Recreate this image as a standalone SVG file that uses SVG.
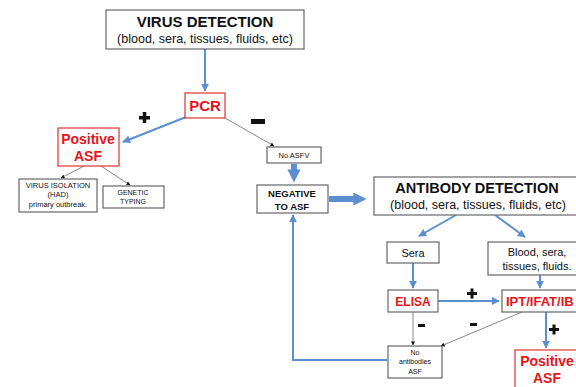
<svg xmlns="http://www.w3.org/2000/svg" width="576" height="387" viewBox="0 0 576 387">
<style>
text{font-family:"Liberation Sans",Arial,sans-serif;text-anchor:middle;fill:#111}
.box{fill:#fff;stroke:#666;stroke-width:1.2}
.rbox{fill:#fff;stroke:#e03030;stroke-width:1.2}
.red{fill:#e8141c;font-weight:bold}
.b{font-weight:bold}
.blue{stroke:#5b8fd0;stroke-width:2;fill:none}
.thick{stroke:#5b8fd0;stroke-width:6;fill:none}
.gray{stroke:#888;stroke-width:1;fill:none}
</style>
<defs>
<marker id="ab" viewBox="0 0 10 10" refX="9" refY="5" markerWidth="4" markerHeight="4" orient="auto"><path d="M0,0L10,5L0,10z" fill="#5b8fd0"/></marker>
<marker id="ak" viewBox="0 0 10 10" refX="9" refY="5" markerWidth="4" markerHeight="4" orient="auto"><path d="M0,0L10,5L0,10z" fill="#111"/></marker>
<marker id="at" viewBox="0 0 10 10" refX="5" refY="5" markerWidth="2.2" markerHeight="2.2" orient="auto"><path d="M0,0L10,5L0,10z" fill="#5b8fd0"/></marker>
</defs>
<rect width="576" height="387" fill="#fff"/>
<g id="connectors">
<line class="blue" x1="205" y1="49" x2="205" y2="91" marker-end="url(#ab)"/>
<line class="blue" x1="186" y1="117" x2="123" y2="142" marker-end="url(#ab)"/>
<line class="gray" x1="225" y1="118" x2="274" y2="146" marker-end="url(#ak)"/>
<line class="thick" x1="294" y1="164" x2="294" y2="176" marker-end="url(#at)"/>
<line class="thick" x1="329" y1="199" x2="360" y2="199" marker-end="url(#at)"/>
<line class="gray" x1="84" y1="166" x2="61" y2="178" marker-end="url(#ak)"/>
<line class="gray" x1="101" y1="166" x2="130" y2="185" marker-end="url(#ak)"/>
<line class="blue" x1="456" y1="215" x2="419" y2="236" marker-end="url(#ab)"/>
<line class="blue" x1="495" y1="215" x2="525" y2="237" marker-end="url(#ab)"/>
<line class="blue" x1="413" y1="263" x2="413" y2="288" marker-end="url(#ab)"/>
<line class="blue" x1="438" y1="301" x2="499" y2="301" marker-end="url(#ab)"/>
<line class="blue" x1="540" y1="275" x2="540" y2="288" marker-end="url(#ab)"/>
<line class="blue" x1="546" y1="312" x2="546" y2="348" marker-end="url(#ab)"/>
<line class="gray" x1="413" y1="312" x2="413" y2="345" marker-end="url(#ak)"/>
<line class="gray" x1="522" y1="312" x2="441" y2="346" marker-end="url(#ak)"/>
<polyline class="blue" points="387,360 293,360 293,215" marker-end="url(#ab)"/>
<rect x="139" y="116" width="11" height="3.5" fill="#111"/><rect x="142.75" y="112" width="3.5" height="11" fill="#111"/>
<rect x="251" y="119" width="14" height="5" fill="#111"/>
<rect x="467" y="292" width="10" height="3" fill="#111"/><rect x="470.5" y="288.5" width="3" height="10" fill="#111"/>
<rect x="549" y="328" width="10" height="3" fill="#111"/><rect x="552.5" y="324.5" width="3" height="10" fill="#111"/>
<rect x="418" y="324" width="7" height="3" fill="#111"/>
<rect x="470" y="323" width="7" height="3" fill="#111"/>
</g>
<g id="virus-detection">
<rect class="box" x="106" y="10" width="198" height="39"/>
<text x="205" y="27" class="b" font-size="15">VIRUS DETECTION</text>
<text x="205" y="43" font-size="12.5">(blood, sera, tissues, fluids, etc)</text>
</g>
<g id="pcr">
<rect class="rbox" x="185" y="93" width="40" height="25" stroke="#c04040"/>
<text x="205" y="111" class="red" font-size="15">PCR</text>
</g>
<g id="positive-asf-1">
<rect class="rbox" x="58" y="128" width="61" height="38"/>
<text x="88" y="144" class="red" font-size="14">Positive</text>
<text x="88" y="161" class="red" font-size="14">ASF</text>
</g>
<g id="virus-isolation">
<rect class="box" x="19" y="179" width="78" height="33"/>
<text x="58" y="188" font-size="7.5">VIRUS ISOLATION</text>
<text x="58" y="197" font-size="7.5">(HAD)</text>
<text x="58" y="207" font-size="7.5">primary outbreak.</text>
</g>
<g id="genetic-typing">
<rect class="box" x="103" y="186" width="61" height="22"/>
<text x="133" y="195" font-size="7">GENETIC</text>
<text x="133" y="204" font-size="7">TYPING</text>
</g>
<g id="no-asfv">
<rect class="box" x="267" y="147" width="54" height="16"/>
<text x="294" y="158" font-size="7.5">No ASFV</text>
</g>
<g id="negative">
<rect class="box" x="257" y="185" width="71" height="28" stroke-width="1.5"/>
<text x="292" y="197" class="b" font-size="9.5">NEGATIVE</text>
<text x="292" y="210" class="b" font-size="9.5">TO ASF</text>
</g>
<g id="antibody-detection">
<rect class="box" x="374" y="177" width="205" height="38"/>
<text x="477" y="193" class="b" font-size="14.5">ANTIBODY DETECTION</text>
<text x="478" y="209" font-size="12.5">(blood, sera, tissues, fluids, etc)</text>
</g>
<g id="sera">
<rect class="box" x="387" y="242" width="52" height="21"/>
<text x="413" y="257" font-size="11">Sera</text>
</g>
<g id="blood">
<rect class="box" x="488" y="242" width="95" height="33"/>
<text x="537" y="256" font-size="11">Blood, sera,</text>
<text x="537" y="270" font-size="11">tissues, fluids.</text>
</g>
<g id="elisa">
<rect class="box" x="388" y="290" width="50" height="22"/>
<text x="413" y="306" class="red" font-size="12">ELISA</text>
</g>
<g id="ipt">
<rect class="box" x="502" y="290" width="90" height="22"/>
<text x="506" y="306" class="red" font-size="13" style="text-anchor:start">IPT/IFAT/IB</text>
</g>
<g id="no-antibodies">
<rect class="box" x="388" y="346" width="54" height="32"/>
<text x="415" y="355" font-size="7">No</text>
<text x="415" y="364" font-size="7">antibodies</text>
<text x="415" y="374" font-size="7">ASF</text>
</g>
<g id="positive-asf-2">
<rect class="rbox" x="515" y="350" width="70" height="40"/>
<text x="547" y="366" class="red" font-size="14">Positive</text>
<text x="547" y="383" class="red" font-size="14">ASF</text>
</g>
</svg>
